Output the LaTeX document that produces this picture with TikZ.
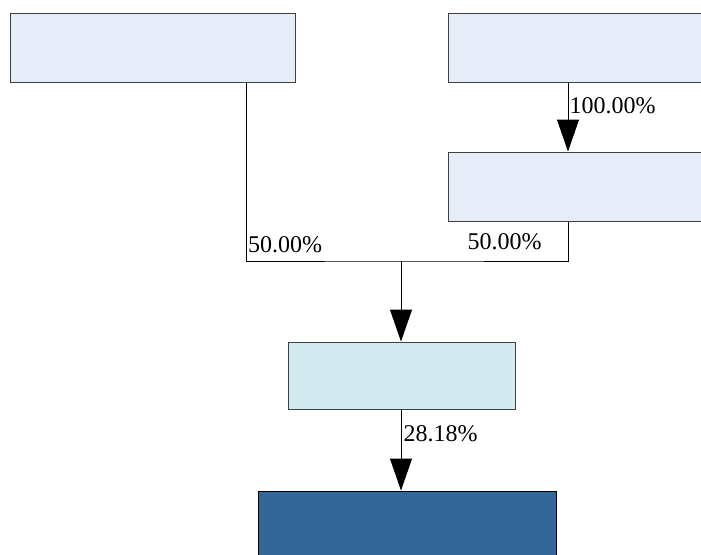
\documentclass[tikz,border=0pt]{standalone}
\usepackage{fontspec}
\setmainfont{Liberation Serif}
\usepackage{xcolor}
\usetikzlibrary{calc,arrows.meta,positioning}
\definecolor{paleblue}{HTML}{E6EDF8}
\definecolor{paleteal}{HTML}{D2EAF0}
\definecolor{deepblue}{HTML}{336699}
\definecolor{edgegray}{HTML}{404040}
\tikzset{
  box/.style={ % image of a plain source box
    draw=edgegray, rectangle, line width=1pt,
    inner sep=0pt, fill=paleblue
  },
  midbox/.style={ % image of the merging box
    box, fill=paleteal
  },
  endbox/.style={ % image of the final box
    box, draw=black, fill=deepblue
  },
  flow/.style={ % a connector with a big black head
    line width=1pt, -{Triangle[length=32pt,width=22pt]}
  },
  share/.style={ % a percentage printed next to a line
    inner sep=0pt, anchor=base west, font=\fontsize{24}{28}\selectfont
  }
}

\begin{document}
\begin{tikzpicture}[x=1pt, y=-1pt, line width=1pt]
      \useasboundingbox (0,0) rectangle (701,554);
      \clip (0,0) rectangle (701,554);

      \node[box, minimum width=285pt, minimum height=69pt] (A) at (152.5,47.5) {};
      \node[box, minimum width=270pt, minimum height=69pt] (B) at (583,47.5) {};
      \node[box, minimum width=270pt, minimum height=69pt] (C) at (583,186.5) {};
      \node[midbox, minimum width=227pt, minimum height=67pt] (D) at (401.5,375.5) {};
      \node[endbox, minimum width=298pt, minimum height=70pt] (E) at (407,526) {};

      \coordinate (ax) at (246,0);
      \coordinate (bx) at (568,0);
      \coordinate (join) at (401,261);

      \draw[flow] (B.south -| bx) -- (C.north -| bx);
      \draw (A.south -| ax) |- (join) -| (C.south -| bx);
      \draw[flow] (join) -- (D.north -| join);
      \draw[flow] (D.south -| join) -- (E.north -| join);

      \node[share] (b_share) at (569,113) {100.00\%};
      \node[share] (a_share) at (247.5,252) {50.00\%};
      \node[share] (c_share) at (467,249) {50.00\%};
      \node[share] (d_share) at (403,441) {28.18\%};
    \end{tikzpicture}
\end{document}
